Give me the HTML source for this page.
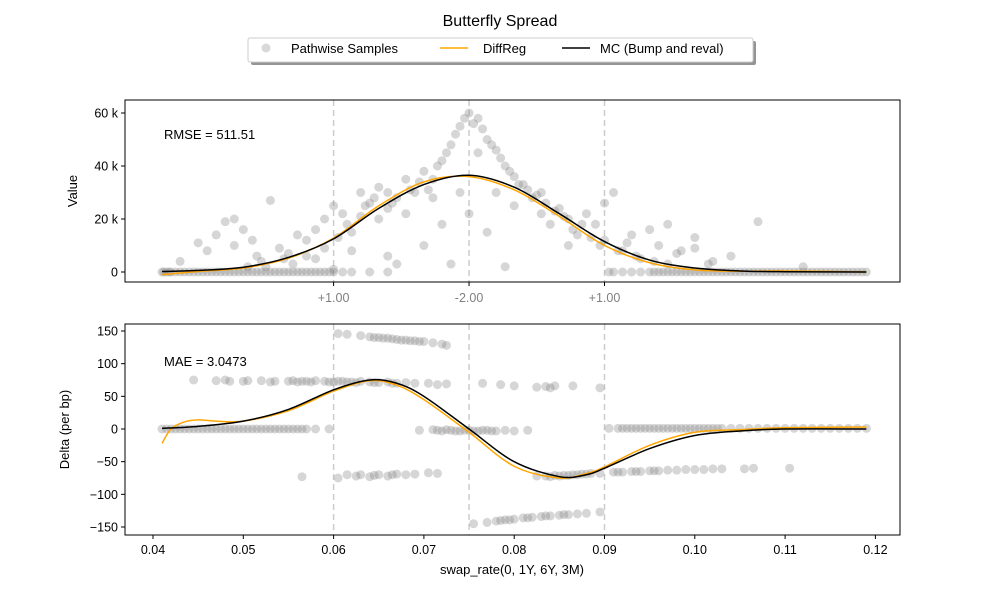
<!DOCTYPE html>
<html><head><meta charset="utf-8">
<style>
html,body{margin:0;padding:0;background:#fff;}
svg text{font-family:"Liberation Sans","DejaVu Sans",sans-serif;}
</style></head>
<body>
<svg id="chart" width="1000" height="600" viewBox="0 0 1000 600" xmlns="http://www.w3.org/2000/svg">
<text x="500" y="26" text-anchor="middle" font-size="16">Butterfly Spread</text>
<g>
<rect x="251" y="41" width="505" height="24" rx="2" fill="#888" opacity="0.9"/>
<rect x="248" y="38" width="505" height="24" rx="2" fill="#fff" stroke="#ccc"/>
<circle cx="266" cy="48" r="4.5" fill="#808080" opacity="0.3"/>
<text x="291" y="53" font-size="13">Pathwise Samples</text>
<line x1="440" y1="48" x2="468" y2="48" stroke="orange" stroke-width="1.5"/>
<text x="483" y="53" font-size="13">DiffReg</text>
<line x1="562" y1="48" x2="590" y2="48" stroke="#000" stroke-width="1.5"/>
<text x="600" y="53" font-size="13">MC (Bump and reval)</text>
</g>
<g id="gtop"></g>
<g id="gbot"></g>
</svg>
<script>
// ---- data ----
const xTicks=[0.04,0.05,0.06,0.07,0.08,0.09,0.10,0.11,0.12];
const topYTicks=[0,20,40,60];
const botYTicks=[-150,-100,-50,0,50,100,150];
const strikes=[0.06,0.075,0.09];
const strikeLabels=["+1.00","-2.00","+1.00"];
const topZeroX=[0.041,0.0412,0.0415,0.0418,0.042,0.0425,0.043,0.0435,0.044,0.0445,0.045,0.0455,0.046,0.0465,0.047,0.0475,0.048,0.0485,0.049,0.0495,0.050,0.0505,0.051,0.0515,0.052,0.0525,0.053,0.0535,0.054,0.0545,0.055,0.0555,0.056,0.0565,0.057,0.0575,0.058,0.0585,0.059,0.0595,0.060,0.061,0.062,0.064,0.066,0.0905,0.091,0.092,0.093,0.094,0.095,0.0955,0.096,0.0965,0.097,0.0975,0.098,0.0985,0.099,0.0995,0.100,0.1005,0.101,0.1015,0.102,0.1025,0.103,0.1035,0.104,0.1045,0.105,0.1055,0.106,0.1065,0.107,0.1075,0.108,0.1085,0.109,0.1095,0.110,0.1105,0.111,0.1115,0.112,0.1125,0.113,0.1135,0.114,0.1145,0.115,0.1155,0.116,0.1165,0.117,0.1175,0.118,0.1185,0.119];
const topSamples=[[0.043,4],[0.045,11],[0.046,8],[0.047,14],[0.048,19],[0.049,20],[0.049,10],[0.05,16],[0.051,12],[0.052,4],[0.053,27],[0.054,9],[0.055,7],[0.056,14],[0.057,12],[0.058,16],[0.059,20],[0.06,25],[0.061,22],[0.062,15],[0.063,30],[0.064,26],[0.065,32],[0.066,24],[0.066,6],[0.067,28],[0.068,22],[0.069,30],[0.07,38],[0.07,10],[0.071,35],[0.072,42],[0.072,18],[0.073,48],[0.073,3],[0.074,55],[0.074,30],[0.075,60],[0.075,22],[0.076,58],[0.076,45],[0.077,50],[0.077,15],[0.078,46],[0.079,40],[0.079,2],[0.08,36],[0.08,25],[0.081,33],[0.082,28],[0.083,30],[0.084,18],[0.085,24],[0.086,20],[0.087,14],[0.088,22],[0.089,18],[0.09,12],[0.09,26],[0.091,30],[0.092,8],[0.093,14],[0.094,5],[0.095,16],[0.096,10],[0.097,18],[0.098,7],[0.1,13],[0.1,9],[0.102,4],[0.104,6],[0.107,19],[0.112,2],[0.06,1],[0.067,3],[0.065,20],[0.068,35],[0.071,28],[0.078,30],[0.083,22],[0.086,10],[0.062,8],[0.058,5],
[0.0555,3],[0.057,6],[0.059,9],[0.0605,13],[0.0615,18],[0.063,21],[0.0635,25],[0.0645,28],[0.066,30],[0.0665,26],[0.0685,31],[0.0695,34],[0.0705,31],[0.0715,40],[0.0725,45],[0.0735,52],[0.0745,58],[0.0755,56],[0.0765,54],[0.0775,48],[0.0785,43],[0.0795,38],[0.0805,33],[0.0815,31],[0.0825,29],[0.0835,26],[0.0845,23],[0.0855,21],[0.0865,16],[0.0875,18],[0.0885,13],[0.0895,10],[0.0915,8],[0.0925,11],[0.0935,6],[0.0955,4],[0.097,3],[0.0985,8],[0.1015,3],[0.0545,5],[0.0525,2],[0.0515,6],[0.0505,2]];
const topMcX=[0.041,0.045,0.05,0.055,0.06,0.065,0.07,0.075,0.08,0.085,0.09,0.095,0.1,0.105,0.11,0.119];
const topMcY=[0.2,0.6,1.8,5.5,12.5,24,33,36.5,32,22,11.5,4.5,1.5,0.4,0.1,0];
const topDrY=[-1,0.2,1.5,5.2,12.8,25,34,36,31,21,10,3.5,0.8,0.3,0.4,0];
const botSamples=[
[0.041,0],[0.0415,0],[0.042,0],[0.0425,0],[0.043,0],[0.0435,0],[0.044,0],[0.0445,0],[0.045,0],[0.0455,0],[0.046,0],[0.0465,0],[0.047,0],[0.0475,0],[0.048,0],[0.0485,0],[0.049,0],[0.0495,0],[0.050,0],[0.0505,0],[0.051,0],[0.0515,0],[0.052,0],[0.0525,0],[0.053,0],[0.0535,0],[0.054,0],[0.0545,0],[0.055,0],[0.0555,0],[0.056,0],[0.0565,0],[0.057,0],[0.058,0],[0.0595,0],
[0.0445,75],[0.047,74],[0.048,75],[0.0485,73],[0.050,73],[0.0505,74],[0.052,74],[0.053,72],[0.0535,73],[0.055,73],[0.0555,74],[0.056,72],[0.0565,73],[0.057,73],[0.0575,72],[0.058,74],[0.059,73],[0.0595,72],[0.060,72],[0.0605,73],[0.061,73],[0.0615,72],[0.062,72],[0.0625,71],[0.063,73],[0.064,72],[0.0645,71],[0.065,71],[0.066,72],[0.0665,70],[0.067,70],[0.068,71],[0.069,70],[0.0705,70],[0.0715,68],[0.0725,69],
[0.0605,146],[0.0615,145],[0.063,143],[0.064,141],[0.0645,140],[0.065,140],[0.0655,139],[0.066,139],[0.0665,138],[0.067,137],[0.0675,136],[0.068,136],[0.0685,135],[0.069,135],[0.0695,134],[0.070,134],[0.071,132],[0.072,130],[0.0725,128],
[0.0565,-73],[0.0605,-75],[0.0615,-70],[0.0625,-72],[0.063,-70],[0.064,-73],[0.0645,-71],[0.065,-70],[0.066,-72],[0.0665,-70],[0.067,-69],[0.068,-70],[0.069,-69],[0.0705,-67],[0.0715,-68],
[0.0695,-2],[0.071,-1],[0.0715,-2],[0.072,-3],[0.0725,-1],[0.073,-2],[0.0735,-3],[0.074,-3],[0.0745,-2],[0.075,-2],[0.0755,-3],[0.076,-3],[0.0765,-2],[0.077,-2],[0.0775,-3],[0.078,-3],[0.079,-2],[0.080,-3],[0.0815,-2],
[0.0765,70],[0.0785,68],[0.080,66],[0.0825,64],[0.0835,65],[0.0845,66],[0.084,63],[0.0865,66],[0.0895,63],
[0.0755,-145],[0.077,-143],[0.078,-141],[0.0785,-140],[0.079,-139],[0.0795,-139],[0.080,-138],[0.081,-136],[0.0815,-136],[0.082,-135],[0.083,-134],[0.0835,-133],[0.084,-133],[0.085,-132],[0.0855,-131],[0.086,-131],[0.087,-130],[0.088,-129],[0.0895,-127],
[0.0825,-72],[0.0835,-72],[0.084,-73],[0.0845,-71],[0.085,-72],[0.0855,-71],[0.086,-71],[0.0865,-70],[0.087,-70],[0.0875,-69],[0.088,-69],[0.0885,-68],[0.0895,-68],[0.091,-66],[0.0915,-66],[0.092,-66],[0.093,-65],[0.0935,-65],[0.094,-65],[0.095,-64],[0.0955,-64],[0.096,-64],[0.097,-63],[0.098,-63],[0.099,-62],[0.100,-62],[0.101,-62],[0.102,-61],[0.103,-61],[0.1055,-61],[0.1065,-60],[0.1105,-60],
[0.0905,1],[0.0915,1],[0.092,1],[0.0925,1],[0.093,1],[0.0935,1],[0.094,1],[0.0945,1],[0.095,1],[0.0955,1],[0.096,1],[0.0965,1],[0.097,1],[0.0975,1],[0.098,1],[0.0985,1],[0.099,1],[0.0995,1],[0.100,1],[0.1005,1],[0.101,1],[0.1015,1],[0.102,1],[0.1025,1],[0.103,1],[0.104,1],[0.105,1],[0.106,1],[0.107,1],[0.108,1],[0.109,1],[0.110,1],[0.111,1],[0.112,1],[0.113,1],[0.114,1],[0.115,1],[0.116,1],[0.117,1],[0.118,1],[0.119,1]];
const botMcX=[0.041,0.045,0.05,0.055,0.06,0.064,0.067,0.07,0.075,0.08,0.085,0.088,0.09,0.095,0.1,0.105,0.11,0.119];
const botMcY=[1,4,12,30,60,75,70,50,0,-50,-73,-70,-60,-30,-10,-3,0,0];
const botDrX=[0.041,0.042,0.0435,0.045,0.047,0.05,0.055,0.06,0.064,0.067,0.07,0.075,0.08,0.085,0.088,0.09,0.095,0.1,0.105,0.11,0.119];
const botDrY=[-22,0,11,14,12,12,28,58,74,67,45,-5,-57,-75,-68,-58,-25,-5,-1,2,3];

// ---- axes ----
const NS="http://www.w3.org/2000/svg";
function mk(parent,tag,attrs){const e=document.createElementNS(NS,tag);for(const k in attrs)e.setAttribute(k,attrs[k]);parent.appendChild(e);return e;}
const L=125,R=900;
const xs=v=>153+(v-0.04)*9030;
const ysTop=v=>272-(v/60)*(272-113);
const ysBot=v=>429-(v/150)*(429-331);
const gTop=document.getElementById('gtop'),gBot=document.getElementById('gbot');

function panel(g,T,B,ys,yTicks,yLab,samples,extraZeroX,mcX,mcY,drX,drY,note,noteY,isTop){
  strikes.forEach((s,i)=>{const l=mk(g,'line',{x1:xs(s),x2:xs(s),y1:T,y2:B,stroke:'#ccc','stroke-width':1.5,'stroke-dasharray':'6,4'});
    
    });
  const pts=samples.map(p=>p).concat(extraZeroX.map(x=>[x,0]));
  pts.forEach(p=>{const c=mk(g,'circle',{cx:xs(p[0]),cy:ys(p[1]),r:4.5,fill:'#808080','fill-opacity':0.32});
    
    });
  const smooth=(X,Y)=>{let d='M'+xs(X[0])+','+ys(Y[0]);for(let i=0;i<X.length-1;i++){const x0=xs(X[i]),y0=ys(Y[i]),x1=xs(X[i+1]),y1=ys(Y[i+1]);const xp=xs(X[Math.max(i-1,0)]),yp=ys(Y[Math.max(i-1,0)]);const xn=xs(X[Math.min(i+2,X.length-1)]),yn=ys(Y[Math.min(i+2,X.length-1)]);d+=' C'+(x0+(x1-xp)/6)+','+(y0+(y1-yp)/6)+' '+(x1-(xn-x0)/6)+','+(y1-(yn-y0)/6)+' '+x1+','+y1;}return d;};
  const dr=mk(g,'path',{d:smooth(drX,drY),fill:'none',stroke:'orange','stroke-width':1.5});
  
  
  const mc=mk(g,'path',{d:smooth(mcX,mcY),fill:'none',stroke:'#000','stroke-width':1.5});
  
  
  const fr=mk(g,'rect',{x:L,y:T,width:R-L,height:B-T,fill:'none',stroke:'#000','stroke-width':1});
  
  
  yTicks.forEach(v=>{const y=ys(v);mk(g,'line',{x1:L-4,x2:L,y1:y,y2:y,stroke:'#000'});
    const t=mk(g,'text',{x:L-7,y:y+4.5,'text-anchor':'end','font-size':12.5});
    t.textContent=isTop?(v===0?'0':v+' k'):(v<0?'\u2212'+(-v):String(v));
    
    });
  const yl=mk(g,'text',{x:0,y:0,'text-anchor':'middle','font-size':13,transform:`translate(${isTop?77:69},${(T+B)/2}) rotate(-90)`});
  yl.textContent=yLab;
  
  
  const n=mk(g,'text',{x:164,y:noteY,'font-size':13});
  n.textContent=note;
  
  
}
panel(gTop,100,282,ysTop,topYTicks,'Value',topSamples,topZeroX,topMcX,topMcY,topMcX,topDrY,'RMSE = 511.51',139,true);
strikes.forEach((s,i)=>{mk(gTop,'line',{x1:xs(s),x2:xs(s),y1:282,y2:286,stroke:'#000'});
  const t=mk(gTop,'text',{x:xs(s),y:302,'text-anchor':'middle','font-size':12.5,fill:'#808080'});
  t.textContent=strikeLabels[i];
  
  });
panel(gBot,324,535,ysBot,botYTicks,'Delta (per bp)',botSamples,[],botMcX,botMcY,botDrX,botDrY,'MAE = 3.0473',366,false);
xTicks.forEach(v=>{const x=xs(v);mk(gBot,'line',{x1:x,x2:x,y1:535,y2:539,stroke:'#000'});
  const t=mk(gBot,'text',{x:x,y:554,'text-anchor':'middle','font-size':12.5});
  t.textContent=v.toFixed(2);
  
  });
const xl=mk(gBot,'text',{x:512,y:574,'text-anchor':'middle','font-size':13});
xl.textContent='swap_rate(0, 1Y, 6Y, 3M)';


</script>
</body></html>
